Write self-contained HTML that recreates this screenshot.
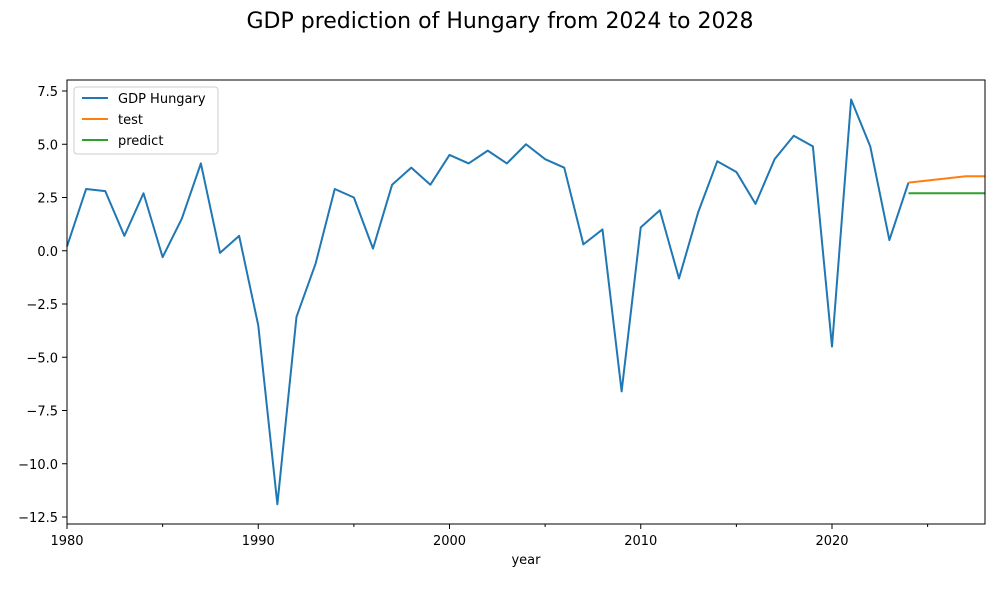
<!DOCTYPE html>
<html><head><meta charset="utf-8"><style>
body{margin:0;background:#fff;font-family:"Liberation Sans","DejaVu Sans",sans-serif}
svg text{font-family:"DejaVu Sans","Liberation Sans",sans-serif}
</style></head><body>
<svg width="1000" height="600" xmlns="http://www.w3.org/2000/svg">
<rect width="1000" height="600" fill="#fff"/>
<text x="500" y="28" text-anchor="middle" font-size="22">GDP prediction of Hungary from 2024 to 2028</text>
<g id="plot"></g>
<g id="axes"></g>
<rect x="67" y="80" width="918" height="444" fill="none" stroke="#000" stroke-width="1"/>
<text x="526" y="564" text-anchor="middle" font-size="13">year</text>
<g>
<rect x="74" y="87" width="144" height="67" rx="3" fill="#fff" fill-opacity="0.8" stroke="#ccc"/>
<line x1="82" y1="98" x2="108" y2="98" stroke="#1f77b4" stroke-width="2"/>
<text x="118" y="103" font-size="13">GDP Hungary</text>
<line x1="82" y1="119" x2="108" y2="119" stroke="#ff7f0e" stroke-width="2"/>
<text x="118" y="124" font-size="13">test</text>
<line x1="82" y1="140" x2="108" y2="140" stroke="#2ca02c" stroke-width="2"/>
<text x="118" y="145" font-size="13">predict</text>
</g>
</svg>
<script>
const gdpYears=[1980,1981,1982,1983,1984,1985,1986,1987,1988,1989,1990,1991,1992,1993,1994,1995,1996,1997,1998,1999,2000,2001,2002,2003,2004,2005,2006,2007,2008,2009,2010,2011,2012,2013,2014,2015,2016,2017,2018,2019,2020,2021,2022,2023,2024];
const gdpValues=[0.2,2.9,2.8,0.7,2.7,-0.3,1.5,4.1,-0.1,0.7,-3.5,-11.9,-3.1,-0.6,2.9,2.5,0.1,3.1,3.9,3.1,4.5,4.1,4.7,4.1,5.0,4.3,3.9,0.3,1.0,-6.6,1.1,1.9,-1.3,1.8,4.2,3.7,2.2,4.3,5.4,4.9,-4.5,7.1,4.9,0.5,3.2];
const testYears=[2024,2025,2026,2027,2028];
const testValues=[3.2,3.3,3.4,3.5,3.5];
const predictYears=[2024,2025,2026,2027,2028];
const predictValues=[2.7,2.7,2.7,2.7,2.7];
const xTicks=[1980,1990,2000,2010,2020];
const xMinor=[1985,1995,2005,2015,2025];
const yTicks=[-12.5,-10,-7.5,-5,-2.5,0,2.5,5,7.5];
const X=y=>67+(y-1980)*918/48;
const Y=v=>250.75-v*21.3;
const NS="http://www.w3.org/2000/svg";
const plot=document.getElementById('plot'),axes=document.getElementById('axes');
function mk(tag,attrs,parent){const e=document.createElementNS(NS,tag);for(const k in attrs)e.setAttribute(k,attrs[k]);parent.appendChild(e);return e;}
function line(xs,vs,color,name){
  const p=mk('polyline',{points:xs.map((x,i)=>X(x)+','+Y(vs[i])).join(' '),fill:'none',stroke:color,'stroke-width':2,'stroke-linejoin':'round'},plot);
  
  
}
line(gdpYears,gdpValues,'#1f77b4','gdp-hungary-line');
line(testYears,testValues,'#ff7f0e','test-line');
line(predictYears,predictValues,'#2ca02c','predict-line');
xTicks.forEach(t=>{
  const l=mk('line',{x1:X(t),x2:X(t),y1:524,y2:529,stroke:'#000'},axes);
  
  
  const tx=mk('text',{x:X(t),y:545,'text-anchor':'middle','font-size':13},axes);
  tx.textContent=t;
  
  
});
xMinor.forEach(t=>{
  const l=mk('line',{x1:X(t),x2:X(t),y1:524,y2:527,stroke:'#000'},axes);
  
  
});
yTicks.forEach(t=>{
  const l=mk('line',{x1:62,x2:67,y1:Y(t),y2:Y(t),stroke:'#000'},axes);
  
  
  const tx=mk('text',{x:58,y:Y(t)+5,'text-anchor':'end','font-size':13},axes);
  tx.textContent=t.toFixed(1).replace('-','\u2212');
  
  
});
</script>
</body></html>
